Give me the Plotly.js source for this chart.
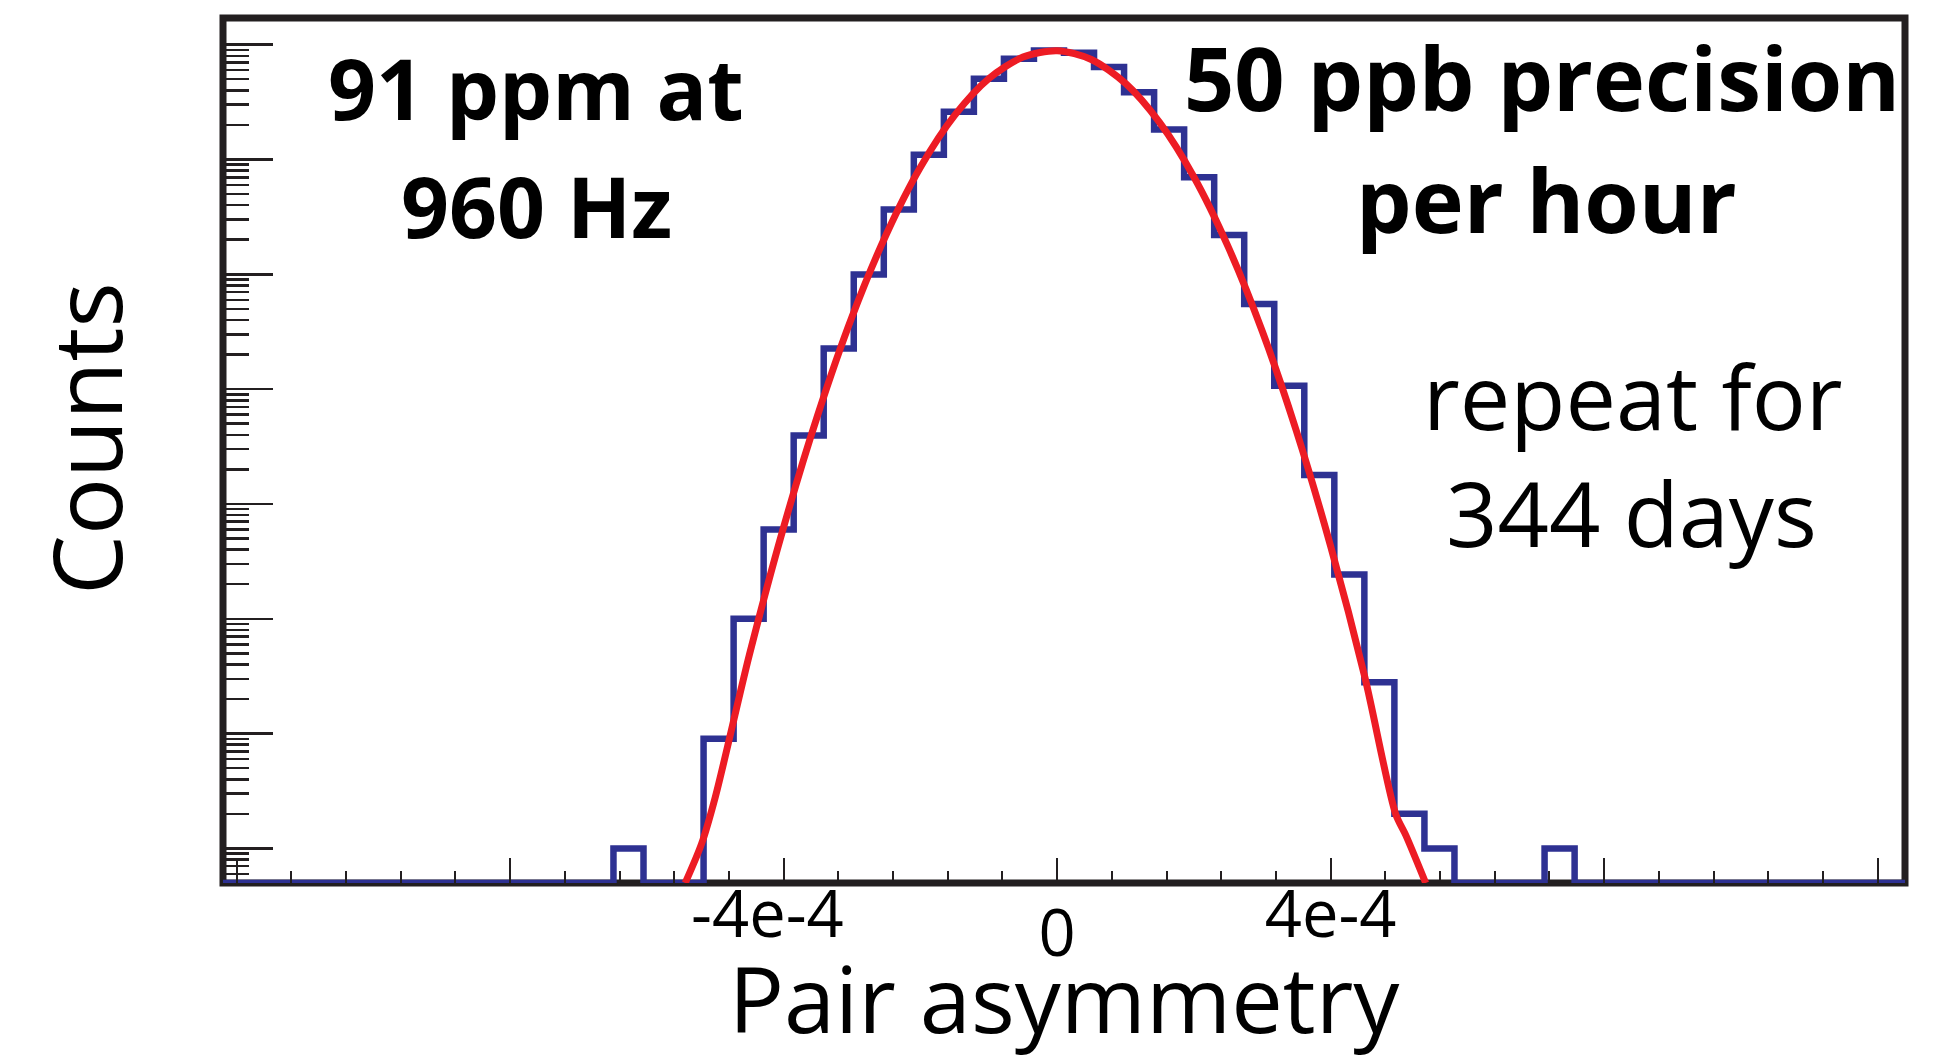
<!DOCTYPE html>
<html>
<head>
<meta charset="utf-8">
<script src="https://cdn.plot.ly/plotly-3.0.1.min.js"></script>
<style>
  html, body { margin: 0; padding: 0; background: #ffffff; }
  #chart { width: 1953px; height: 1060px; }
</style>
</head>
<body>
<div id="chart"></div>
<script>
// ---------------- data ----------------
// histogram limits and bin contents (56 equal bins)
const histLow = -1.22e-3;
const histHigh = 1.24e-3;
const counts = [
  0, 0, 0, 0, 0, 0, 0, 0, 0, 0,
  0, 0, 0, 1, 0, 0, 9, 100, 600, 3950,
  22600, 99500, 366000, 1100000, 2610000, 5050000, 7540000, 8870000, 8510000, 6390000,
  3850000, 1820000, 700000, 220000, 55200, 10700, 1790, 243, 28, 2,
  1, 0, 0, 0, 1, 0, 0, 0, 0, 0,
  0, 0, 0, 0, 0, 0
];

// Gaussian fit curve
const fitX = [-5.44e-4, -5.2e-4, -5.0e-4, -4.5e-4, -4.0e-4, -3.5e-4, -3.0e-4, -2.5e-4, -2.0e-4,
              -1.5e-4, -1.0e-4, -0.5e-4, 0, 0.5e-4, 1.0e-4, 1.5e-4, 2.0e-4, 2.5e-4, 3.0e-4,
              3.5e-4, 4.0e-4, 4.5e-4, 4.95e-4, 5.1e-4, 5.39e-4];
const fitY = [0.5, 1.1, 2.8, 49, 630, 6000, 42700, 222000, 855000,
              2420000, 5060000, 7800000, 8860000, 7430000, 4590000, 2090000, 703000, 174000, 31900,
              4300, 428, 31, 2.0, 1.3, 0.5];

// axis ticks / labels
const xTickVals = [-1.2e-3, -8e-4, -4e-4, 0, 4e-4, 8e-4, 1.2e-3];
const xTickText = ['', '', '-4e-4', '0', '4e-4', '', ''];
const yLow = 0.5;          // bottom of the log axis
const yTopLog = 7.232;     // top of the log axis (log10)
const xTitle = 'Pair asymmetry';
const yTitle = 'Counts';

const noteLeft = ['91 ppm at', '960 Hz'];
const noteRight = ['50 ppb precision', 'per hour'];
const noteRepeat = ['repeat for', '344 days'];

// ---------------- build ----------------
const FONT = 'Open Sans, Liberation Sans, sans-serif';
const INK = '#231f20';

const nBins = counts.length;
const bw = (histHigh - histLow) / nBins;
const stepX = [], stepY = [];
for (let i = 0; i < nBins; i++) {
  stepX.push(histLow + i * bw);
  stepY.push(counts[i] > 0 ? counts[i] : yLow);
}
stepX.push(histHigh);
stepY.push(counts[nBins - 1] > 0 ? counts[nBins - 1] : yLow);

// log-axis tick positions
const yMajor = [], yMinor = [];
for (let k = -1; k <= 8; k++) {
  const d = Math.pow(10, k);
  if (Math.log10(d) >= Math.log10(yLow) - 1e-9 && Math.log10(d) <= yTopLog) yMajor.push(d);
  for (let m = 2; m <= 9; m++) {
    const v = m * d;
    if (Math.log10(v) >= Math.log10(yLow) - 1e-9 && Math.log10(v) <= yTopLog) yMinor.push(v);
  }
}

// main x axis: signed labels (ROOT centres the number, not the minus sign)
const mainLabels = xTickText.map((t, i) => (xTickVals[i] === 0 || t === '') ? '' :
                                 (xTickVals[i] < 0 ? t + '\u2002' : t));
const zeroIdx = xTickVals.indexOf(0);

const traces = [
  {
    type: 'scatter', mode: 'lines',
    x: stepX, y: stepY,
    line: { shape: 'hv', color: '#2e3192', width: 6.5 },
    xaxis: 'x', yaxis: 'y',
    hoverinfo: 'skip', showlegend: false
  },
  {
    type: 'scatter', mode: 'lines',
    x: fitX, y: fitY,
    line: { shape: 'spline', smoothing: 0.8, color: '#ed1c24', width: 7 },
    xaxis: 'x2', yaxis: 'y2',
    hoverinfo: 'skip', showlegend: false
  }
];

const tickFont = { family: FONT, size: 65, color: '#000' };
const xRange = [histLow, histHigh];
const yRange = [Math.log10(yLow), yTopLog];

function textLine(txt, xp, yp, size, weight) {
  return {
    text: txt, xref: 'paper', yref: 'paper', x: xp, y: yp,
    xanchor: 'center', yanchor: 'middle', showarrow: false,
    font: { family: FONT, size: size, color: '#000', weight: weight }
  };
}

const layout = {
  width: 1953, height: 1060,
  margin: { l: 223, r: 48, t: 18, b: 177, pad: 0 },
  paper_bgcolor: '#ffffff', plot_bgcolor: '#ffffff',
  showlegend: false,
  font: { family: FONT, color: '#000' },
  xaxis: {
    type: 'linear', range: xRange, autorange: false,
    tickvals: xTickVals, ticktext: mainLabels,
    ticks: 'inside', ticklen: 25, tickwidth: 2, tickcolor: INK,
    minor: { dtick: 8e-5, tick0: 0, ticks: 'inside', ticklen: 12, tickwidth: 2, tickcolor: INK, showgrid: false },
    showline: false, showgrid: false, zeroline: false,
    tickfont: tickFont, ticklabelstandoff: -12,
    title: { text: xTitle, font: { family: FONT, size: 92, color: '#000' }, standoff: 40 }
  },
  xaxis2: {
    type: 'linear', range: xRange, autorange: false, overlaying: 'x', anchor: 'y2', side: 'bottom',
    tickvals: [xTickVals[zeroIdx]], ticktext: [xTickText[zeroIdx]],
    ticks: '', showline: false, showgrid: false, zeroline: false,
    tickfont: tickFont, ticklabelstandoff: 7
  },
  yaxis: {
    type: 'log', range: yRange, autorange: false,
    tickvals: yMajor, showticklabels: false,
    ticks: 'inside', ticklen: 50, tickwidth: 2.5, tickcolor: INK,
    showline: false, showgrid: false, zeroline: false,
    // zero-width + four-per-em space keeps the word centred where the reference has it
    title: { text: '\u200B\u2005' + yTitle, font: { family: FONT, size: 95, color: '#000' }, standoff: 67 }
  },
  yaxis2: {
    type: 'log', range: yRange, autorange: false, overlaying: 'y', anchor: 'x', side: 'left',
    tickvals: yMinor, showticklabels: false,
    ticks: 'inside', ticklen: 26, tickwidth: 2.5, tickcolor: INK,
    showline: false, showgrid: false, zeroline: false
  },
  shapes: [
    { type: 'rect', xref: 'paper', yref: 'paper', x0: 0, x1: 1, y0: 0, y1: 1,
      line: { color: INK, width: 7 }, fillcolor: 'rgba(0,0,0,0)', layer: 'below' }
  ],
  annotations: [
    textLine(noteLeft[0], 0.1861, 0.9198, 84, 'bold'),
    textLine(noteLeft[1], 0.1861, 0.7834, 84, 'bold'),
    textLine(noteRight[0], 0.7840, 0.9319, 88, 'bold'),
    textLine(noteRight[1], 0.7866, 0.7909, 88, 'bold'),
    textLine(noteRepeat[0], 0.8383, 0.5646, 90, 'normal'),
    textLine(noteRepeat[1], 0.8373, 0.4294, 90, 'normal')
  ]
};

Plotly.newPlot('chart', traces, layout, { staticPlot: true, displayModeBar: false });
</script>
</body>
</html>
